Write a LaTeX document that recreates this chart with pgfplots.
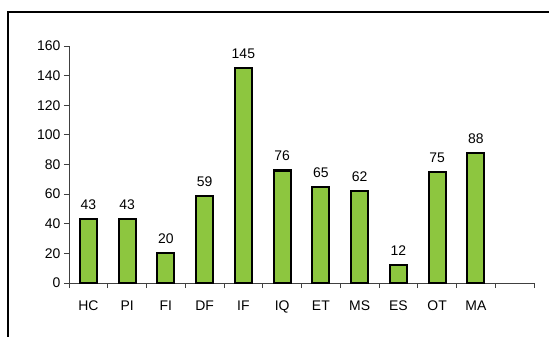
\documentclass[border=0pt]{standalone}
\usepackage{pgfplots}
\pgfplotsset{compat=1.18}
\usepackage{fontspec}
\setmainfont{Liberation Sans}
\definecolor{barg}{HTML}{8DC63F}
\begin{document}
\begin{tikzpicture}[x=1bp,y=1bp]
\useasboundingbox (-69,-53) rectangle (480,283);
\draw[line width=1.5bp] (-61,-60) -- (-61,271) -- (490,271);
\begin{axis}[
    at={(0,0)}, anchor=south west,
    scale only axis, width=465bp, height=237bp,
    xmin=-0.5, xmax=11.5, ymin=0, ymax=160,
    axis lines=left, axis line style={-, draw=black!75, line width=0.8bp},
    ybar, bar width=17bp,
    ytick={0,20,...,160},
    xtick={-0.5,0.5,...,11.5},
    xticklabels={HC,PI,FI,DF,IF,IQ,ET,MS,ES,OT,MA,,},
    ticklabel style={font=\fontsize{14}{16}\selectfont},
    xticklabel style={xshift=19.375bp, yshift=-9bp},
    tick align=outside, major tick length=5bp,
    tick style={draw=black!75, line width=0.8bp},
    /pgf/number format/assume math mode=true,
    nodes near coords,
    every node near coord/.append style={font=\fontsize{14}{16}\selectfont, yshift=5bp},
]
\addplot[fill=barg, draw=black, line width=2.2bp] coordinates {
    (0,43) (1,43) (2,20) (3,59) (4,145) (5,76) (6,65) (7,62) (8,12) (9,75) (10,88)
};
\end{axis}
\end{tikzpicture}
\end{document}
